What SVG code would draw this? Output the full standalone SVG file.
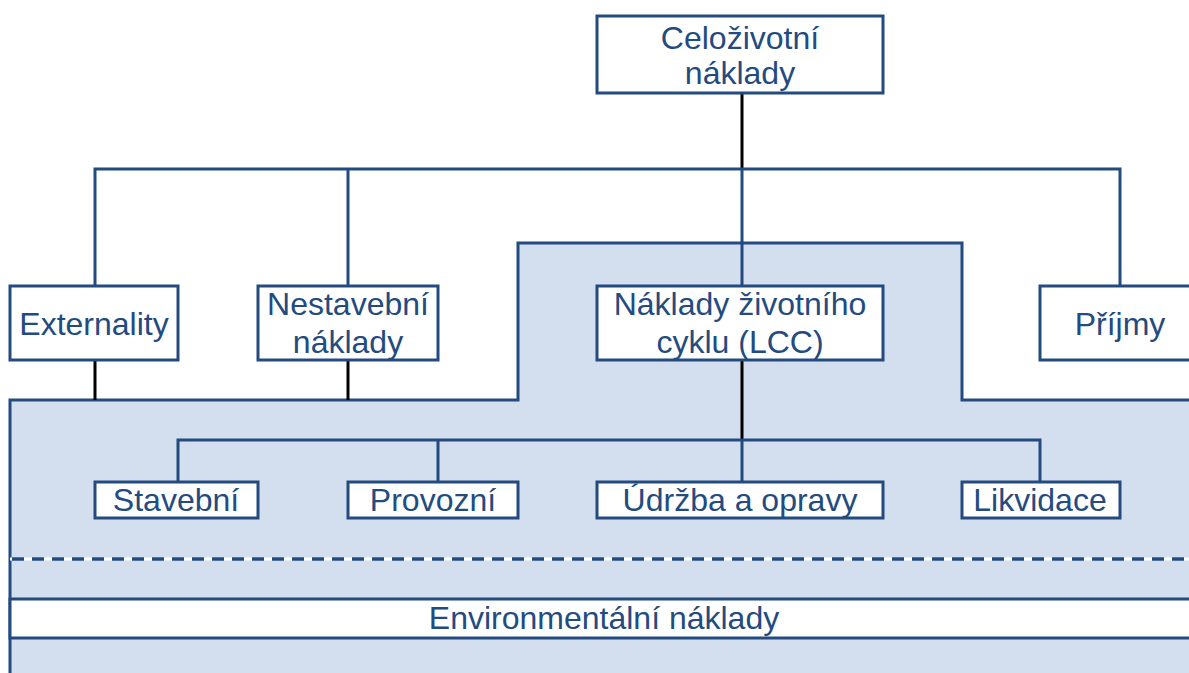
<svg xmlns="http://www.w3.org/2000/svg" width="1189" height="673" viewBox="0 0 1189 673">
<style>
.box{fill:#fff;stroke:#234B80;stroke-width:3}
.t{font-family:"Liberation Sans",Arial,sans-serif;font-size:32px;fill:#234B80;text-anchor:middle}
.bl{stroke:#234B80;stroke-width:3;fill:none}
.bk{stroke:#000;stroke-width:3;fill:none}
</style>
<rect width="1189" height="673" fill="#fff"/>
<g id="lcc-region">
<path d="M10 675 L10 400 L518 400 L518 243 L962 243 L962 400 L1195 400 L1195 675 Z" fill="#D3DFEE" stroke="#234B80" stroke-width="3"/>
</g>
<g id="connectors">
<path class="bk" d="M742 93 V169"/>
<path class="bl" d="M95 286 V169 H1120 V286 M348 169 V286 M742 169 V286"/>
<path class="bk" d="M95 360 V400 M348 360 V400 M742 360 V440"/>
<path class="bl" d="M178 482 V440 H1040 V482 M438 440 V482 M742 440 V482"/>
</g>
<g id="dashed-separator">
<line x1="10" y1="559" x2="1189" y2="559" stroke="#fff" stroke-width="3"/>
<line x1="12" y1="559" x2="1189" y2="559" stroke="#234B80" stroke-width="3.5" stroke-dasharray="12 8"/>
</g>
<g id="celozivotni">
<rect class="box" x="597" y="16" width="286" height="77"/>
<text class="t" x="740" y="49">Celoživotní</text>
<text class="t" x="740" y="84">náklady</text>
</g>
<g id="externality">
<rect class="box" x="10" y="286" width="168" height="74"/>
<text class="t" x="94" y="335">Externality</text>
</g>
<g id="nestavebni">
<rect class="box" x="258" y="286" width="180" height="74"/>
<text class="t" x="348" y="315">Nestavební</text>
<text class="t" x="348" y="353">náklady</text>
</g>
<g id="lcc">
<rect class="box" x="597" y="286" width="286" height="74"/>
<text class="t" x="740" y="315">Náklady životního</text>
<text class="t" x="740" y="353">cyklu (LCC)</text>
</g>
<g id="prijmy">
<rect class="box" x="1040" y="286" width="160" height="74"/>
<text class="t" x="1120" y="335">Příjmy</text>
</g>
<g id="stavebni">
<rect class="box" x="95" y="482" width="163" height="36"/>
<text class="t" x="176" y="511">Stavební</text>
</g>
<g id="provozni">
<rect class="box" x="348" y="482" width="170" height="36"/>
<text class="t" x="433" y="511">Provozní</text>
</g>
<g id="udrzba">
<rect class="box" x="597" y="482" width="286" height="36"/>
<text class="t" x="740" y="511">Údržba a opravy</text>
</g>
<g id="likvidace">
<rect class="box" x="962" y="482" width="158" height="36"/>
<text class="t" x="1040" y="511">Likvidace</text>
</g>
<g id="environmentalni">
<rect class="box" x="10" y="599" width="1190" height="39"/>
<text class="t" x="604" y="629">Environmentální náklady</text>
</g>
</svg>
